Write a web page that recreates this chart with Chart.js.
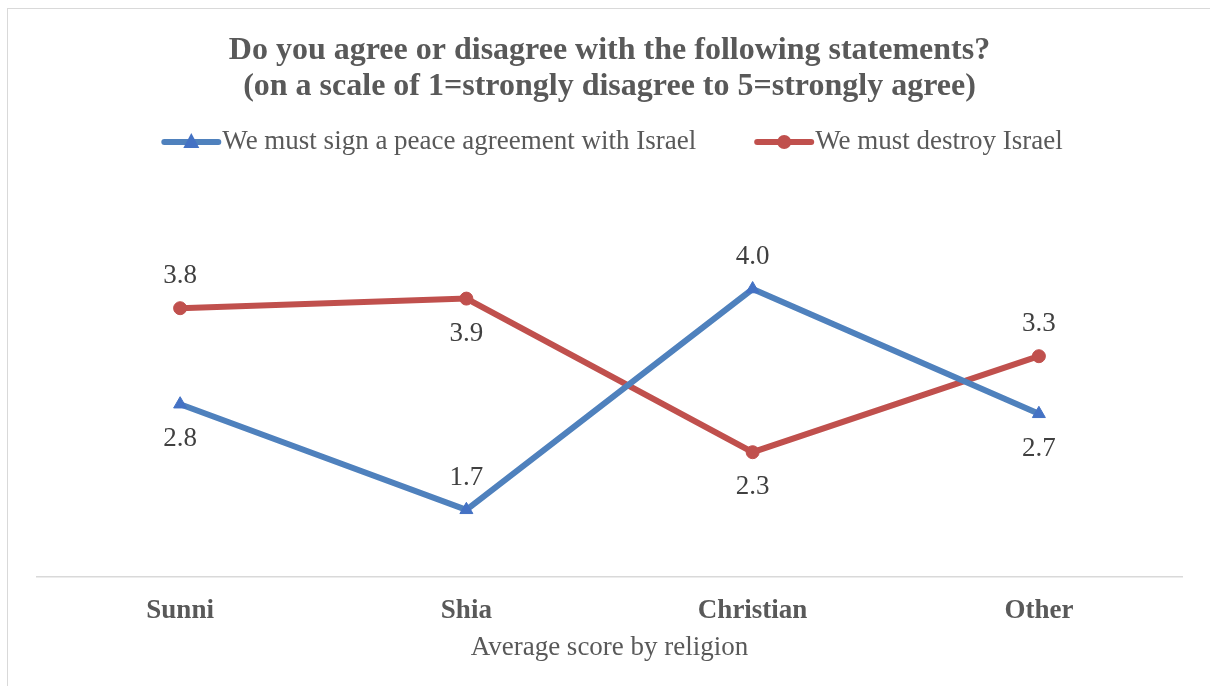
<!DOCTYPE html>
<html>
<head>
<meta charset="utf-8">
<script src="https://cdn.jsdelivr.net/npm/chart.js@4.4.1/dist/chart.umd.min.js"></script>
<style>
  html, body { margin: 0; padding: 0; background: #fff; overflow: hidden; }
  #frame { position: absolute; left: 7px; top: 8px; width: 1300px; height: 800px; border: 1.5px solid #d9d9d9; }
  #wrap { position: absolute; left: 0; top: 0; width: 1210px; height: 686px; }
</style>
</head>
<body>
<div id="frame"></div>
<div id="wrap"><canvas id="chart"></canvas></div>
<script>
// average score (1-5) by religion
const religions = ["Sunni", "Shia", "Christian", "Other"];
const peaceScores = [2.8, 1.7, 4.0, 2.7];
const destroyScores = [3.8, 3.9, 2.3, 3.3];
const seriesNames = ["We must sign a peace agreement with Israel", "We must destroy Israel"];
const titleLines = ["Do you agree or disagree with the following statements?",
                    "(on a scale of 1=strongly disagree to 5=strongly agree)"];
const axisTitle = "Average score by religion";

const serif = "'Liberation Serif', 'Times New Roman', serif";
const blue = "#4f81bd";
const blueMarker = "#4472c4";
const red = "#c0504d";

// writes each value next to its point, above or below
const valueLabels = {
  id: "valueLabels",
  afterDatasetsDraw(chart) {
    let ctx = chart.ctx;
    ctx.save();
    ctx.font = "27px " + serif;
    ctx.fillStyle = "#404040";
    ctx.textAlign = "center";
    ctx.textBaseline = "middle";
    chart.data.datasets.forEach((ds, i) => {
      chart.getDatasetMeta(i).data.forEach((pt, j) => {
        let dy = ds.labelSide[j] == "above" ? -32 : 35;
        ctx.fillText(ds.data[j].toFixed(1), pt.x, pt.y + dy);
      });
    });
    ctx.restore();
  }
};

// legend drawn as a short line with the series marker on it
const lineLegend = {
  id: "lineLegend",
  afterDraw(chart) {
    let ctx = chart.ctx;
    ctx.save();
    ctx.font = "27px " + serif;
    ctx.textBaseline = "middle";
    let items = chart.data.datasets.map(ds => ({ ds: ds, w: ctx.measureText(ds.label).width }));
    let total = items.reduce((s, it) => s + 60 + it.w, 0) + 59 * (items.length - 1);
    let x = (chart.chartArea.left + chart.chartArea.right) / 2 + 3 - total / 2;
    let y = chart.chartArea.top - 51;
    items.forEach(it => {
      ctx.strokeStyle = it.ds.borderColor;
      ctx.lineWidth = 6;
      ctx.lineCap = "round";
      ctx.beginPath();
      ctx.moveTo(x + 2, y);
      ctx.lineTo(x + 56, y);
      ctx.stroke();
      ctx.fillStyle = it.ds.backgroundColor;
      ctx.beginPath();
      if (it.ds.pointStyle == "triangle") {
        ctx.moveTo(x + 29, y - 9);
        ctx.lineTo(x + 37, y + 6);
        ctx.lineTo(x + 21, y + 6);
        ctx.closePath();
      } else {
        ctx.arc(x + 29, y, 7, 0, Math.PI * 2);
      }
      ctx.fill();
      ctx.fillStyle = "#595959";
      ctx.fillText(it.ds.label, x + 60, y);
      x += 60 + it.w + 59;
    });
    ctx.restore();
  }
};

new Chart(document.getElementById("chart"), {
  type: "line",
  data: {
    labels: religions,
    datasets: [
      {
        label: seriesNames[0],
        data: peaceScores,
        borderColor: blue,
        backgroundColor: blueMarker,
        borderWidth: 6,
        pointStyle: "triangle",
        pointRadius: 7.5,
        pointBorderWidth: 1,
        pointBorderColor: blueMarker,
        labelSide: ["below", "above", "above", "below"]
      },
      {
        label: seriesNames[1],
        data: destroyScores,
        borderColor: red,
        backgroundColor: red,
        borderWidth: 6,
        pointStyle: "circle",
        pointRadius: 6.5,
        pointBorderWidth: 1,
        labelSide: ["above", "below", "below", "above"]
      }
    ]
  },
  options: {
    responsive: true,
    maintainAspectRatio: false,
    animation: false,
    layout: { padding: { left: 37, right: 28, top: 8, bottom: 14 } },
    plugins: {
      title: {
        display: true,
        text: titleLines,
        color: "#595959",
        font: { family: serif, size: 32, weight: "bold", lineHeight: 1.125 },
        padding: { top: 25, bottom: 88 }
      },
      legend: { display: false },
      tooltip: { enabled: false }
    },
    scales: {
      x: {
        offset: true,
        grid: { display: false, drawTicks: false },
        border: { display: true, color: "#d9d9d9", width: 1.5 },
        ticks: {
          color: "#595959",
          font: { family: serif, size: 27, weight: "bold" },
          padding: 17.5
        },
        title: {
          display: true,
          text: axisTitle,
          color: "#595959",
          font: { family: serif, size: 27 },
          padding: { top: -12.6, bottom: 7.8 }
        }
      },
      y: {
        display: false,
        min: 1,
        max: 5
      }
    }
  },
  plugins: [valueLabels, lineLegend]
});
</script>
</body>
</html>
